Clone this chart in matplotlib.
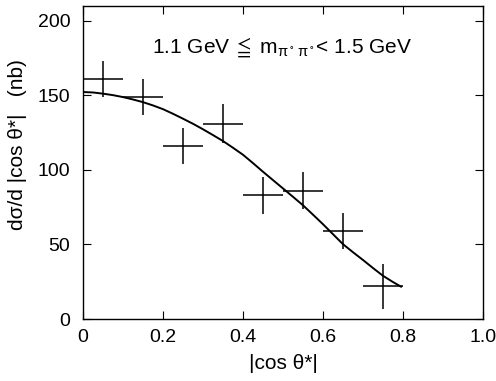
import matplotlib
matplotlib.use("Agg")
import matplotlib.pyplot as plt

plt.rcParams['font.family'] = ['Liberation Sans', 'DejaVu Sans']
plt.rcParams['mathtext.fontset'] = 'custom'
plt.rcParams['mathtext.rm'] = 'Liberation Sans'
plt.rcParams['mathtext.it'] = 'Liberation Sans'
plt.rcParams['mathtext.sf'] = 'Liberation Sans'
plt.rcParams['mathtext.fallback'] = 'stixsans'

# data points (bin centres, values, errors)
cos_bins = [0.05, 0.15, 0.25, 0.35, 0.45, 0.55, 0.65, 0.75]
dsigma = [161, 149, 116, 131, 83, 86, 59, 22]
dsigma_err = [12, 12, 12, 13, 12.5, 12.5, 12, 15]
bin_halfwidth = [0.05] * 8

# fitted curve
curve_x = [0.0, 0.025, 0.05, 0.075, 0.10, 0.125, 0.15, 0.175, 0.20, 0.225, 0.25,
           0.275, 0.30, 0.325, 0.35, 0.375, 0.40, 0.425, 0.45, 0.475, 0.50,
           0.525, 0.55, 0.575, 0.60, 0.625, 0.65, 0.675, 0.70, 0.725, 0.75,
           0.775, 0.795]
curve_y = [152.3, 152.0, 151.2, 150.2, 148.9, 147.3, 145.5, 143.3, 140.8, 137.7, 134.4,
           131.0, 127.3, 123.4, 119.4, 114.9, 110.2, 104.6, 98.8, 93.2, 87.6,
           82.0, 76.3, 70.0, 63.6, 56.9, 50.2, 44.8, 39.6, 34.2, 29.0,
           24.8, 21.7]

x_ticks = [0, 0.2, 0.4, 0.6, 0.8, 1.0]
x_ticklabels = ['0', '0.2', '0.4', '0.6', '0.8', '1.0']
y_ticks = [0, 50, 100, 150, 200]

fig = plt.figure(figsize=(4.96, 3.81), dpi=100)
ax = fig.add_axes([0.1673, 0.1627, 0.8065, 0.8215])

ax.errorbar(cos_bins, dsigma, yerr=dsigma_err, xerr=bin_halfwidth, fmt='none',
            ecolor='black', elinewidth=1.1, capsize=0)
ax.plot(curve_x, curve_y, color='black', lw=1.4)

ax.set_xlim(0, 1.0)
ax.set_ylim(0, 210)
ax.set_xticks(x_ticks)
ax.set_xticklabels(x_ticklabels)
ax.set_yticks(y_ticks)
ax.tick_params(direction='in', top=True, right=True, length=6, width=0.8,
               labelsize=14)
ax.tick_params(axis='x', pad=7)
ax.tick_params(axis='y', pad=9)
for s in ax.spines.values():
    s.set_linewidth(1.0)

ax.set_xlabel('|cos θ*|', fontsize=15, labelpad=6)
ax.set_ylabel('dσ/d |cos θ*|   (nb)', fontsize=15)
ax.yaxis.set_label_coords(-0.14, 0.556)

ax.text(0.172, 179, r'1.1 GeV$\;\leqq\;$m$_{\pi^\circ\,\pi^\circ}$< 1.5 GeV',
        fontsize=15, ha='left', va='baseline')

fig.savefig('out.png', dpi=100)
